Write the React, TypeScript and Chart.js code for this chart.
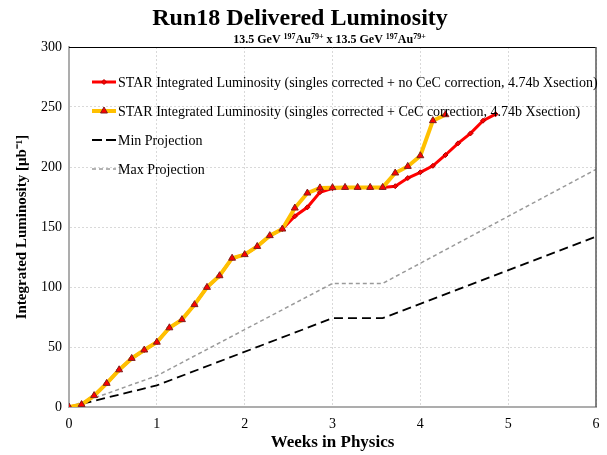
import React, { useEffect, useRef } from 'react';
import { Chart, registerables } from 'chart.js';
import { drawPoint } from 'chart.js/helpers';

Chart.register(...registerables);

// ---- data ----
const weeks = [
  0, 0.143, 0.286, 0.429, 0.571, 0.714, 0.857, 1.0, 1.143, 1.286, 1.429, 1.571,
  1.714, 1.857, 2.0, 2.143, 2.286, 2.429, 2.571, 2.714, 2.857, 3.0, 3.143, 3.286,
  3.429, 3.571, 3.714, 3.857, 4.0, 4.143, 4.286, 4.429, 4.571, 4.714, 4.857,
];
const noCecLumi = [
  0, 2, 9.5, 19.7, 31, 40.5, 47.5, 54, 66, 72.8, 85.3, 99.7, 109.4, 124, 127, 133.8,
  142.8, 148.3, 159, 166.4, 179, 182.3, 183, 183, 183, 183, 184, 190.8, 195.6, 201,
  210, 219.7, 228, 238.6, 244,
];
const cecLumi = [
  0, 2, 9.5, 19.7, 31, 40.5, 47.5, 54, 66, 72.8, 85.3, 99.7, 109.4, 124, 127, 133.8,
  142.8, 148.3, 165.8, 178.3, 182.6, 182.8, 183, 183, 183, 183, 195, 200.5, 209.4,
  238.6, 243.6,
];
const projWeeks = [0, 1, 3, 3.571, 6];
const minProjection = [0, 18, 74, 74, 142];
const maxProjection = [0, 26, 103, 103, 198];

const seriesLabels = [
  'STAR Integrated Luminosity (singles corrected + no CeC correction, 4.74b Xsection)',
  'STAR Integrated Luminosity (singles corrected + CeC correction, 4.74b Xsection)',
  'Min Projection',
  'Max Projection',
];
const titleText = 'Run18 Delivered Luminosity';
const subtitleParts: [string, boolean][] = [
  ['13.5 GeV ', false], ['197', true], ['Au', false], ['79+', true],
  [' x 13.5 GeV ', false], ['197', true], ['Au', false], ['79+', true],
];
const xTitle = 'Weeks in Physics';
const yTitle = 'Integrated Luminosity [\u03BCb\u207B\u00B9]';

const FONT = '"Liberation Serif", "Times New Roman", serif';

const toPoints = (xs: number[], ys: number[]) => ys.map((y, i) => ({ x: xs[i], y }));

const titlePlugin = {
  id: 'rsTitles',
  afterDraw(chart: any) {
    const { ctx, chartArea } = chart;
    ctx.save();
    ctx.fillStyle = '#000';
    ctx.textBaseline = 'alphabetic';
    ctx.textAlign = 'center';
    ctx.font = `bold 24px ${FONT}`;
    ctx.fillText(titleText, 300, 25);
    // subtitle with superscripts
    const norm = `bold 12px ${FONT}`;
    const sup = `bold 8px ${FONT}`;
    let total = 0;
    for (const [t, s] of subtitleParts) {
      ctx.font = s ? sup : norm;
      total += ctx.measureText(t).width;
    }
    let x = (chartArea.left + chartArea.right) / 2 - total / 2 - 3;
    ctx.textAlign = 'left';
    for (const [t, s] of subtitleParts) {
      ctx.font = s ? sup : norm;
      ctx.fillText(t, x, s ? 39 : 43);
      x += ctx.measureText(t).width;
    }
    ctx.restore();
  },
};

const framePlugin = {
  id: 'rsFrame',
  afterDatasetsDraw(chart: any) {
    const { ctx, chartArea: a } = chart;
    ctx.save();
    ctx.lineWidth = 1;
    ctx.strokeStyle = '#000';
    ctx.beginPath();
    ctx.moveTo(a.left, a.top + 0.5);
    ctx.lineTo(a.right, a.top + 0.5);
    ctx.stroke();
    ctx.strokeStyle = '#595959';
    ctx.lineWidth = 1.5;
    ctx.beginPath();
    ctx.moveTo(a.right, a.top);
    ctx.lineTo(a.right, a.bottom);
    ctx.stroke();
    ctx.restore();
  },
};

const legendPlugin = {
  id: 'rsLegend',
  afterDraw(chart: any) {
    const { ctx, chartArea } = chart;
    const x0 = chartArea.left + 23;
    const x1 = chartArea.left + 47;
    const y0 = chartArea.top + 35;
    const gap = 29;
    chart.data.datasets.forEach((ds: any, i: number) => {
      const y = y0 + i * gap;
      ctx.save();
      ctx.strokeStyle = ds.borderColor;
      ctx.lineWidth = ds.borderWidth;
      ctx.setLineDash(ds.legendDash || []);
      ctx.beginPath();
      ctx.moveTo(x0, y);
      ctx.lineTo(x1, y);
      ctx.stroke();
      ctx.setLineDash([]);
      if (ds.pointRadius > 0) {
        ctx.fillStyle = ds.pointBackgroundColor;
        ctx.strokeStyle = ds.pointBorderColor;
        ctx.lineWidth = ds.pointBorderWidth;
        drawPoint(ctx, { pointStyle: ds.pointStyle, rotation: 0, radius: ds.pointRadius, borderWidth: ds.pointBorderWidth } as any, (x0 + x1) / 2, y);
      }
      ctx.fillStyle = '#000';
      ctx.font = `14px ${FONT}`;
      ctx.textBaseline = 'middle';
      ctx.textAlign = 'left';
      ctx.fillText(ds.label, x1 + 2, y + 1);
      ctx.restore();
    });
  },
};

export default function App() {
  const ref = useRef<HTMLCanvasElement | null>(null);
  useEffect(() => {
    if (!ref.current) return;
    const chart = new Chart(ref.current, {
      type: 'line',
      data: {
        datasets: [
          {
            label: seriesLabels[0],
            data: toPoints(weeks, noCecLumi),
            borderColor: '#FF0000',
            backgroundColor: '#FF0000',
            borderWidth: 3,
            pointStyle: 'rectRot',
            pointRadius: 2.5,
            pointBackgroundColor: '#FF0000',
            pointBorderColor: '#B00000',
            pointBorderWidth: 1,
            order: 1,
          } as any,
          {
            label: seriesLabels[1],
            data: toPoints(weeks, cecLumi),
            borderColor: '#FFC000',
            backgroundColor: '#FFC000',
            borderWidth: 4,
            pointStyle: 'triangle',
            pointRadius: 4,
            pointBackgroundColor: '#FF0000',
            pointBorderColor: '#7F1F1F',
            pointBorderWidth: 1,
            order: 0,
          },
          {
            label: seriesLabels[2],
            data: toPoints(projWeeks, minProjection),
            borderColor: '#000000',
            borderWidth: 1.8,
            borderDash: [9, 5],
            legendDash: [10, 4],
            pointRadius: 0,
            order: 2,
          },
          {
            label: seriesLabels[3],
            data: toPoints(projWeeks, maxProjection),
            borderColor: '#9A9A9A',
            borderWidth: 1.5,
            borderDash: [4, 3],
            legendDash: [4, 3],
            pointRadius: 0,
            order: 3,
          },
        ],
      },
      options: {
        responsive: false,
        animation: false,
        layout: { padding: { top: 47, right: 11, left: 0, bottom: 0 } },
        plugins: {
          legend: { display: false },
          title: { display: false },
          tooltip: { enabled: false },
        },
        elements: { line: { tension: 0 } },
        scales: {
          x: {
            type: 'linear',
            min: 0,
            max: 6,
            afterFit: (s: any) => { s.height = 48; s.paddingLeft = 0; s.paddingRight = 0; },
            ticks: { stepSize: 1, padding: 9, color: '#000', font: { family: FONT, size: 14 } },
            grid: { color: '#D9D9D9', drawTicks: false, lineWidth: 1 },
            border: { color: '#ADADAD', width: 2, dash: [2, 2] },
            title: { display: true, text: xTitle, color: '#000', font: { family: FONT, size: 17, weight: 'bold' }, padding: { top: 0, bottom: 2 } },
          },
          y: {
            min: 0,
            max: 300,
            afterFit: (s: any) => { s.width = 69; s.paddingTop = 0; s.paddingBottom = 0; },
            ticks: { stepSize: 50, padding: 7, color: '#000', font: { family: FONT, size: 14 } },
            grid: { color: '#D9D9D9', drawTicks: false, lineWidth: 1 },
            border: { color: '#ADADAD', width: 2, dash: [2, 2] },
            title: { display: true, text: yTitle, color: '#000', font: { family: FONT, size: 15, weight: 'bold' }, padding: { top: 13, bottom: 0 } },
          },
        },
      } as any,
      plugins: [framePlugin, legendPlugin, titlePlugin],
    });
    return () => chart.destroy();
  }, []);
  return (
    <div style={{ position: 'fixed', left: 0, top: 0, width: 607, height: 455, background: '#fff' }}>
      <canvas ref={ref} width={607} height={455} style={{ display: 'block' }} />
    </div>
  );
}
